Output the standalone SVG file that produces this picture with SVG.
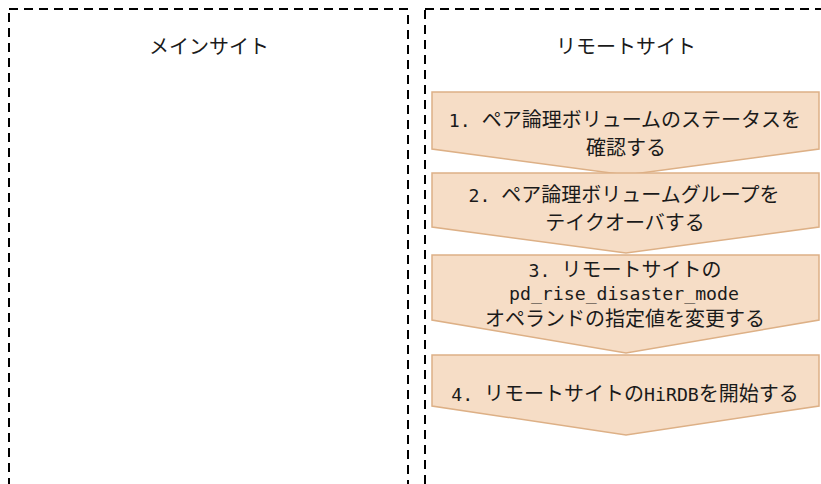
<svg xmlns="http://www.w3.org/2000/svg" width="821" height="484" viewBox="0 0 821 484">
<style>
.site{fill:none;stroke:#000;stroke-width:2;stroke-dasharray:9 6}
.step{fill:#F6DDC6;stroke:#DDB086;stroke-width:1.5;stroke-linejoin:miter}
text{font-family:"Noto Sans CJK JP","Liberation Sans",sans-serif;font-size:20px;fill:#1a1a1a;text-anchor:middle}
.a{font-family:"DejaVu Sans Mono","Noto Sans CJK JP",monospace;font-size:18.2px}
</style>
<rect width="821" height="484" fill="#fff"/>
<g id="main-site">
<rect class="site" x="9" y="9" width="399" height="500"/>
<text x="209" y="54">メインサイト</text>
</g>
<g id="remote-site">
<rect class="site" x="425" y="9" width="420" height="500"/>
<text x="626" y="54">リモートサイト</text>
</g>
<g id="step1">
<polygon class="step" points="432,92 819,92 819,149 626,175 432,149"/>
<text x="625" y="127"><tspan class="a">1. </tspan>ペア論理ボリュームのステータスを<tspan x="626" y="155">確認する</tspan></text>
</g>
<g id="step2">
<polygon class="step" points="432,173 819,173 819,227 626,253 432,227"/>
<text x="624" y="202"><tspan class="a">2. </tspan>ペア論理ボリュームグループを<tspan x="625" y="230">テイクオーバする</tspan></text>
</g>
<g id="step3">
<polygon class="step" points="432,255 819,255 819,320 626,353 432,320"/>
<text x="625" y="277"><tspan class="a">3. </tspan>リモートサイトの<tspan class="a" x="624" y="300">pd_rise_disaster_mode</tspan><tspan x="625" y="326">オペランドの指定値を変更する</tspan></text>
</g>
<g id="step4">
<polygon class="step" points="432,355 819,355 819,406 626,435 432,406"/>
<text x="625" y="401"><tspan class="a">4. </tspan>リモートサイトの<tspan class="a">HiRDB</tspan>を開始する</text>
</g>
<g id="connectors"></g>
</svg>
